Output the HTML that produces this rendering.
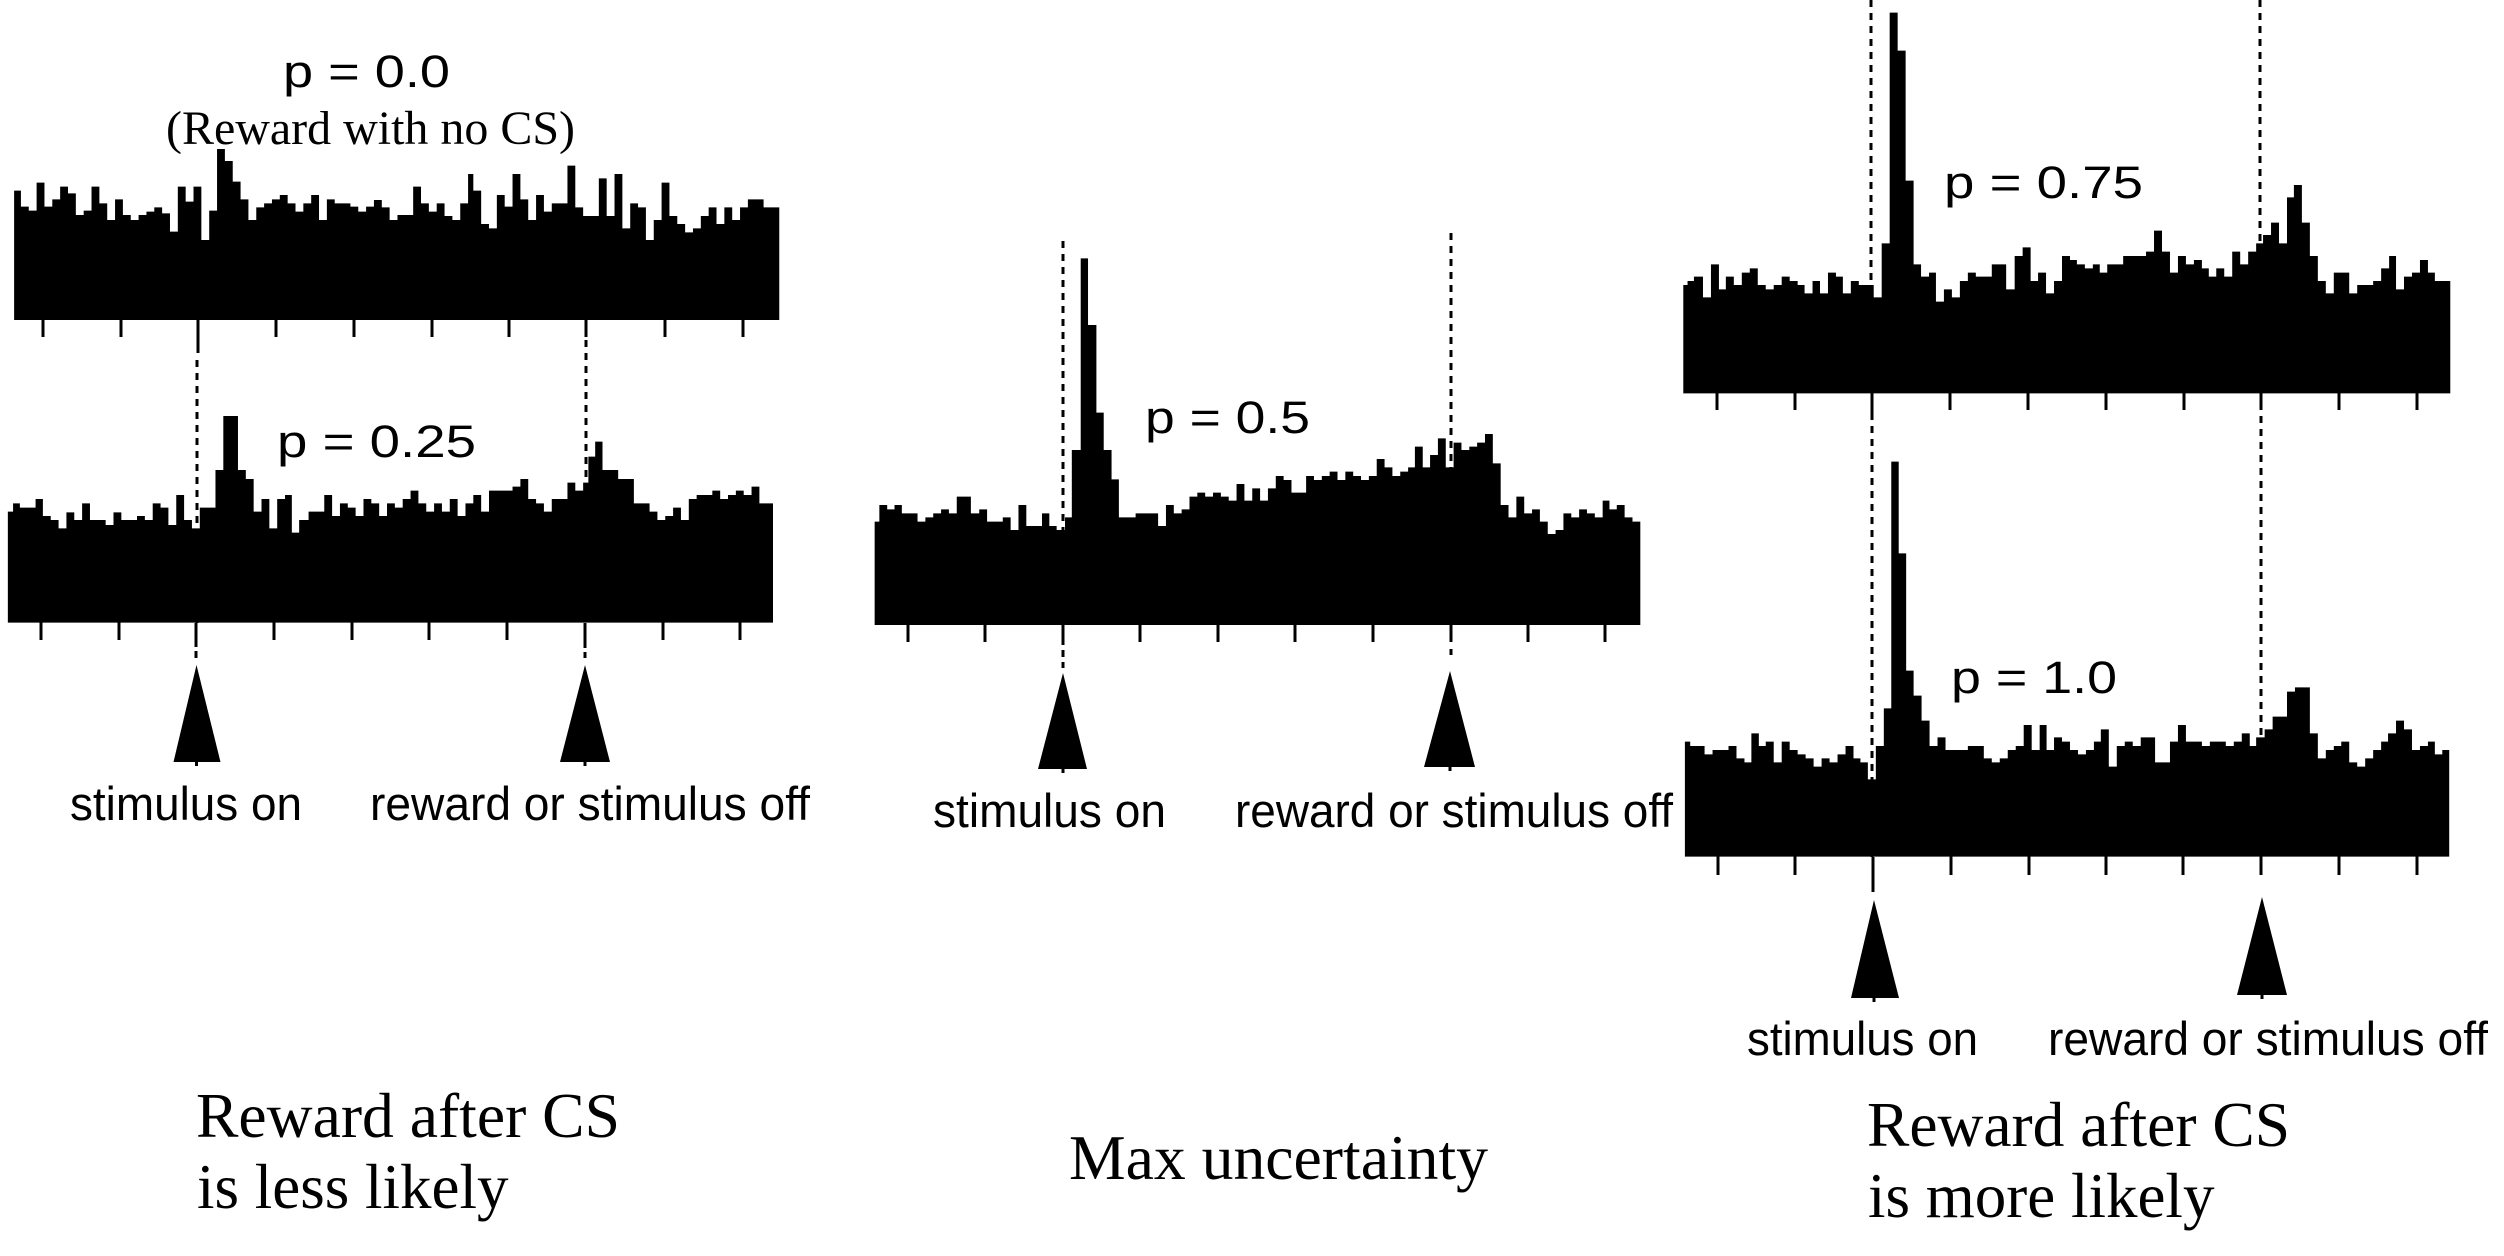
<!DOCTYPE html>
<html>
<head>
<meta charset="utf-8">
<style>
html,body{margin:0;padding:0;background:#fff;}
svg{display:block;}
.sans{font-family:"Liberation Sans",Arial,sans-serif;}
.serif{font-family:"Liberation Serif","Times New Roman",serif;}
</style>
</head>
<body>
<svg width="2504" height="1256" viewBox="0 0 2504 1256" xmlns="http://www.w3.org/2000/svg">
<rect x="0" y="0" width="2504" height="1256" fill="#fff"/>

<!-- dashed lines (drawn first, bars cover them) -->
<g stroke="#000" stroke-width="3" fill="none">
  <!-- panel 1/2 -->
  <line x1="198" y1="320" x2="198" y2="353"/>
  <line x1="197" y1="360" x2="197" y2="623" stroke-dasharray="7 6"/>
  <line x1="196" y1="623" x2="196" y2="647"/>
  <line x1="196" y1="651" x2="196" y2="658"/>
  <line x1="586" y1="340" x2="586" y2="623" stroke-dasharray="7 6"/>
  <line x1="585" y1="623" x2="585" y2="648"/>
  <line x1="585" y1="652" x2="585" y2="658"/>
  <!-- panel 3 -->
  <line x1="1063" y1="241" x2="1063" y2="625" stroke-dasharray="7 6"/>
  <line x1="1063" y1="625" x2="1063" y2="645"/>
  <line x1="1063" y1="650" x2="1063" y2="668" stroke-dasharray="7 5"/>
  <line x1="1451" y1="233" x2="1451" y2="625" stroke-dasharray="7 6"/>
  <line x1="1451" y1="625" x2="1451" y2="642"/>
  <line x1="1451" y1="649" x2="1451" y2="660" stroke-dasharray="6 5"/>
  <!-- panel 4/5 -->
  <line x1="1871" y1="0" x2="1871" y2="393" stroke-dasharray="7 6"/>
  <line x1="1872" y1="393" x2="1872" y2="420"/>
  <line x1="1872" y1="426" x2="1872" y2="857" stroke-dasharray="7 6"/>
  <line x1="2260" y1="0" x2="2260" y2="393" stroke-dasharray="7 6"/>
  <line x1="2261" y1="393" x2="2261" y2="410"/>
  <line x1="2261" y1="416" x2="2261" y2="857" stroke-dasharray="7 6"/>
  <line x1="1873" y1="857" x2="1873" y2="892"/>
</g>

<!-- histograms -->
<g fill="#000" stroke="none">
<path transform="matrix(0.5230 0 0 0.33333 0 0)" d="M27,960 V572 H40 V620 H55 V632 H70 V548 H85 V620 H100 V598 H115 V560 H130 V580 H145 V645 H160 V632 H175 V560 H190 V610 H205 V660 H220 V598 H235 V645 H250 V660 H265 V645 H280 V635 H295 V622 H310 V640 H325 V695 H340 V560 H355 V605 H370 V560 H385 V720 H400 V632 H415 V447 H430 V483 H445 V545 H460 V598 H475 V660 H490 V622 H505 V610 H520 V598 H535 V585 H550 V610 H565 V635 H580 V610 H595 V585 H610 V660 H625 V598 H640 V610 H655 V610 H670 V620 H685 V635 H700 V620 H715 V600 H730 V622 H745 V660 H760 V645 H775 V645 H790 V560 H805 V610 H820 V635 H835 V610 H850 V648 H865 V660 H880 V610 H895 V522 H905 V572 H920 V672 H935 V685 H950 V585 H965 V620 H980 V522 H995 V598 H1010 V660 H1025 V585 H1040 V635 H1055 V610 H1085 V497 H1100 V622 H1115 V648 H1145 V535 H1160 V648 H1175 V522 H1190 V685 H1205 V610 H1220 V622 H1235 V720 H1250 V660 H1265 V548 H1280 V648 H1295 V672 H1310 V697 H1325 V685 H1340 V648 H1355 V622 H1370 V672 H1385 V622 H1400 V660 H1415 V622 H1430 V598 H1460 V622 H1490 V960 Z"/>
<path transform="matrix(0.5230 0 0 0.33333 0 380)" d="M15,728 V395 H25 V370 H38 V383 H68 V357 H82 V408 H97 V420 H112 V445 H127 V397 H142 V420 H157 V370 H172 V420 H202 V435 H217 V397 H232 V420 H262 V408 H277 V420 H292 V370 H307 V383 H322 V435 H337 V345 H352 V420 H367 V445 H382 V383 H412 V270 H427 V108 H455 V270 H470 V297 H485 V395 H500 V357 H515 V445 H530 V357 H545 V345 H558 V458 H572 V420 H590 V395 H620 V345 H635 V408 H650 V370 H665 V383 H680 V408 H695 V357 H710 V370 H725 V408 H740 V370 H755 V383 H770 V357 H785 V332 H800 V370 H815 V395 H830 V370 H845 V395 H860 V357 H875 V408 H890 V370 H905 V345 H920 V395 H935 V332 H980 V320 H995 V297 H1010 V357 H1025 V370 H1040 V395 H1055 V357 H1085 V308 H1100 V332 H1115 V308 H1125 V230 H1138 V185 H1152 V270 H1182 V297 H1212 V370 H1242 V395 H1257 V420 H1272 V408 H1287 V383 H1302 V420 H1317 V357 H1332 V345 H1362 V332 H1377 V357 H1392 V345 H1407 V332 H1422 V345 H1437 V320 H1452 V370 H1478 V728 Z"/>
<path transform="matrix(0.5230 0 0 0.33333 860 220)" d="M28,1215 V905 H37 V855 H52 V868 H66 V855 H80 V880 H110 V905 H125 V892 H140 V880 H155 V868 H170 V880 H185 V830 H212 V880 H228 V868 H243 V905 H273 V892 H288 V930 H303 V855 H318 V918 H348 V880 H362 V918 H376 V930 H392 V892 H405 V690 H422 V115 H436 V315 H452 V578 H466 V690 H481 V778 H495 V892 H527 V880 H570 V918 H585 V855 H600 V880 H615 V868 H630 V830 H645 V818 H660 V830 H675 V818 H690 V830 H705 V842 H720 V792 H735 V842 H750 V805 H765 V842 H780 V805 H795 V768 H810 V780 H825 V818 H853 V768 H868 V780 H883 V768 H898 V755 H913 V780 H928 V755 H943 V768 H958 V780 H973 V768 H988 V717 H1003 V742 H1018 V768 H1033 V755 H1048 V742 H1061 V680 H1076 V742 H1090 V705 H1105 V655 H1120 V742 H1135 V668 H1150 V690 H1165 V680 H1180 V668 H1195 V642 H1210 V730 H1225 V855 H1240 V892 H1255 V830 H1270 V880 H1285 V868 H1300 V905 H1315 V942 H1330 V930 H1345 V880 H1360 V892 H1375 V868 H1390 V880 H1405 V892 H1420 V842 H1433 V868 H1447 V855 H1462 V892 H1477 V905 H1492 V1215 Z"/>
<path transform="matrix(0.53189 0 0 0.33333 1670 0)" d="M25,1180 V855 H33 V843 H45 V830 H62 V892 H77 V793 H92 V868 H105 V830 H120 V855 H135 V818 H150 V805 H165 V855 H180 V868 H195 V855 H210 V830 H225 V843 H240 V855 H253 V880 H268 V843 H282 V880 H297 V818 H312 V830 H325 V880 H340 V843 H355 V855 H383 V892 H398 V730 H413 V38 H428 V152 H443 V542 H458 V793 H472 V830 H487 V818 H500 V905 H515 V868 H530 V892 H545 V843 H560 V818 H575 V830 H605 V793 H632 V868 H648 V768 H663 V742 H678 V843 H692 V818 H707 V880 H722 V843 H737 V768 H752 V780 H765 V793 H780 V805 H795 V793 H808 V818 H822 V793 H852 V768 H895 V755 H910 V692 H925 V755 H940 V818 H955 V768 H970 V793 H985 V780 H1000 V805 H1013 V830 H1027 V805 H1042 V830 H1057 V755 H1072 V793 H1087 V755 H1102 V730 H1115 V705 H1130 V668 H1145 V730 H1160 V592 H1173 V555 H1188 V668 H1203 V768 H1218 V843 H1233 V880 H1248 V818 H1277 V880 H1292 V855 H1322 V843 H1337 V805 H1352 V768 H1365 V868 H1380 V830 H1395 V818 H1410 V780 H1425 V818 H1438 V843 H1467 V1180 Z"/>
<path transform="matrix(0.53189 0 0 0.33333 1670 420)" d="M28,1310 V965 H38 V978 H65 V1003 H80 V990 H110 V978 H125 V1015 H140 V1027 H153 V940 H167 V978 H180 V965 H195 V1027 H210 V965 H225 V990 H240 V1003 H255 V1015 H270 V1040 H285 V1015 H300 V1027 H315 V1003 H330 V978 H345 V1015 H358 V1027 H372 V1078 H387 V978 H402 V865 H416 V125 H430 V400 H444 V752 H458 V827 H473 V902 H488 V978 H503 V952 H518 V990 H560 V978 H590 V1015 H605 V1027 H620 V1015 H635 V990 H650 V978 H665 V915 H680 V990 H695 V915 H708 V990 H722 V952 H737 V965 H752 V990 H767 V1003 H782 V990 H797 V965 H810 V928 H825 V1040 H840 V978 H855 V965 H870 V978 H885 V952 H912 V1027 H940 V965 H955 V915 H970 V965 H1000 V978 H1015 V965 H1045 V978 H1060 V965 H1075 V940 H1090 V978 H1102 V952 H1118 V928 H1133 V890 H1160 V815 H1175 V802 H1203 V940 H1218 V1015 H1233 V990 H1248 V978 H1262 V965 H1277 V1027 H1292 V1040 H1307 V1015 H1322 V990 H1337 V965 H1350 V940 H1365 V902 H1380 V928 H1395 V990 H1410 V978 H1425 V965 H1438 V1003 H1452 V990 H1465 V1310 Z"/>
</g>

<!-- ticks -->
<g stroke="#000" stroke-width="3">
  <line x1="43" y1="320" x2="43" y2="337"/><line x1="121" y1="320" x2="121" y2="337"/>
  <line x1="276" y1="320" x2="276" y2="337"/><line x1="354" y1="320" x2="354" y2="337"/>
  <line x1="432" y1="320" x2="432" y2="337"/><line x1="509" y1="320" x2="509" y2="337"/>
  <line x1="586" y1="320" x2="586" y2="337"/><line x1="665" y1="320" x2="665" y2="337"/>
  <line x1="743" y1="320" x2="743" y2="337"/>
  <line x1="41" y1="622" x2="41" y2="640"/><line x1="119" y1="622" x2="119" y2="640"/>
  <line x1="274" y1="622" x2="274" y2="640"/><line x1="352" y1="622" x2="352" y2="640"/>
  <line x1="429" y1="622" x2="429" y2="640"/><line x1="507" y1="622" x2="507" y2="640"/>
  <line x1="663" y1="622" x2="663" y2="640"/><line x1="740" y1="622" x2="740" y2="640"/>
  <line x1="908" y1="624" x2="908" y2="642"/><line x1="985" y1="624" x2="985" y2="642"/>
  <line x1="1140" y1="624" x2="1140" y2="642"/><line x1="1218" y1="624" x2="1218" y2="642"/>
  <line x1="1295" y1="624" x2="1295" y2="642"/><line x1="1373" y1="624" x2="1373" y2="642"/>
  <line x1="1528" y1="624" x2="1528" y2="642"/><line x1="1605" y1="624" x2="1605" y2="642"/>
  <line x1="1717" y1="392" x2="1717" y2="410"/><line x1="1795" y1="392" x2="1795" y2="410"/>
  <line x1="1950" y1="392" x2="1950" y2="410"/><line x1="2028" y1="392" x2="2028" y2="410"/>
  <line x1="2106" y1="392" x2="2106" y2="410"/><line x1="2184" y1="392" x2="2184" y2="410"/>
  <line x1="2339" y1="392" x2="2339" y2="410"/><line x1="2417" y1="392" x2="2417" y2="410"/>
  <line x1="1718" y1="856" x2="1718" y2="875"/><line x1="1795" y1="856" x2="1795" y2="875"/>
  <line x1="1951" y1="856" x2="1951" y2="875"/><line x1="2029" y1="856" x2="2029" y2="875"/>
  <line x1="2106" y1="856" x2="2106" y2="875"/><line x1="2183" y1="856" x2="2183" y2="875"/>
  <line x1="2261" y1="856" x2="2261" y2="875"/>
  <line x1="2339" y1="856" x2="2339" y2="875"/><line x1="2417" y1="856" x2="2417" y2="875"/>
</g>

<!-- arrows -->
<g fill="#000">
  <polygon points="196.5,665 220.5,762 173.5,762"/>
  <rect x="195" y="761" width="3" height="5"/>
  <polygon points="585,665 610,762 560,762"/>
  <rect x="583.5" y="761" width="3" height="5"/>
  <polygon points="1063,673 1087,769 1038,769"/>
  <rect x="1061.5" y="768" width="3" height="5"/>
  <polygon points="1450,671 1475,767 1424,767"/>
  <rect x="1448.5" y="766" width="3" height="5"/>
  <polygon points="1874,900 1899,998 1851,998"/>
  <rect x="1872.5" y="997" width="3" height="5"/>
  <polygon points="2262,897 2287,995 2237,995"/>
  <rect x="2260.5" y="994" width="3" height="5"/>
</g>

<!-- p labels -->
<g class="sans" font-size="45" fill="#000">
  <text x="283" y="87" textLength="167" lengthAdjust="spacingAndGlyphs">p = 0.0</text>
  <text x="277" y="457" textLength="199" lengthAdjust="spacingAndGlyphs">p = 0.25</text>
  <text x="1145" y="433" textLength="165" lengthAdjust="spacingAndGlyphs">p = 0.5</text>
  <text x="1944" y="198" textLength="199" lengthAdjust="spacingAndGlyphs">p = 0.75</text>
  <text x="1951" y="693" textLength="166" lengthAdjust="spacingAndGlyphs">p = 1.0</text>
</g>

<!-- event labels -->
<g class="sans" font-size="47" fill="#000">
  <text x="70" y="820" textLength="232" lengthAdjust="spacingAndGlyphs">stimulus on</text>
  <text x="370" y="820" textLength="440" lengthAdjust="spacingAndGlyphs">reward or stimulus off</text>
  <text x="933" y="827" textLength="233" lengthAdjust="spacingAndGlyphs">stimulus on</text>
  <text x="1235" y="827" textLength="438" lengthAdjust="spacingAndGlyphs">reward or stimulus off</text>
  <text x="1747" y="1055" textLength="231" lengthAdjust="spacingAndGlyphs">stimulus on</text>
  <text x="2048" y="1055" textLength="440" lengthAdjust="spacingAndGlyphs">reward or stimulus off</text>
</g>

<!-- serif text -->
<g class="serif" fill="#000">
  <text x="166" y="144" font-size="48" textLength="409" lengthAdjust="spacingAndGlyphs">(Reward with no CS)</text>
  <text x="196" y="1137" font-size="63" textLength="424" lengthAdjust="spacingAndGlyphs">Reward after CS</text>
  <text x="197" y="1208" font-size="63">is less likely</text>
  <text x="1069" y="1179" font-size="63" textLength="419" lengthAdjust="spacingAndGlyphs">Max uncertainty</text>
  <text x="1867" y="1146" font-size="63" textLength="423" lengthAdjust="spacingAndGlyphs">Reward after CS</text>
  <text x="1868" y="1217" font-size="63">is more likely</text>
</g>
</svg>
</body>
</html>
